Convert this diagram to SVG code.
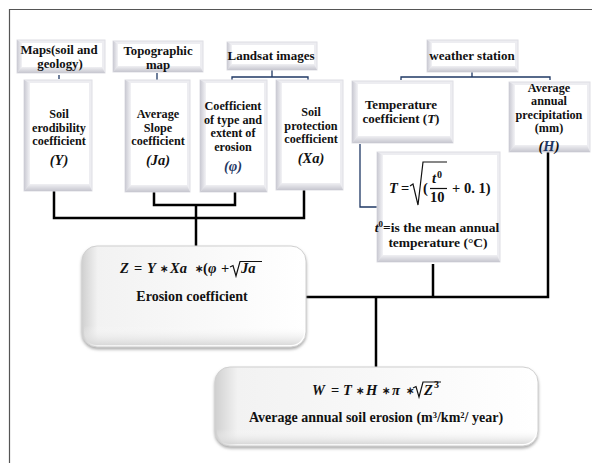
<svg xmlns="http://www.w3.org/2000/svg" width="592" height="463" viewBox="0 0 592 463">
<defs>
<linearGradient id="gl" x1="0" y1="0" x2="1" y2="0"><stop offset="0" stop-color="#c9c9d2"/><stop offset="1" stop-color="#f3f3f6"/></linearGradient>
<linearGradient id="gb" x1="0" y1="0" x2="0" y2="1"><stop offset="0" stop-color="#f0f0f3"/><stop offset="1" stop-color="#c6c6cf"/></linearGradient>
<linearGradient id="gr" x1="0" y1="0" x2="1" y2="0"><stop offset="0" stop-color="#d0d0d0"/><stop offset="0.07" stop-color="#f2f2f2"/><stop offset="1" stop-color="#ffffff"/></linearGradient>
<linearGradient id="grb" x1="0" y1="0" x2="0" y2="1"><stop offset="0" stop-color="#ffffff" stop-opacity="0"/><stop offset="0.8" stop-color="#ffffff" stop-opacity="0"/><stop offset="1" stop-color="#d4d4d4" stop-opacity="0.85"/></linearGradient>
<filter id="sh" x="-10%" y="-10%" width="120%" height="130%"><feDropShadow dx="0" dy="2" stdDeviation="1.5" flood-color="#888" flood-opacity="0.7"/></filter>
</defs>
<style>
.ol{fill:#ededf1;stroke:#dedee4;stroke-width:1}
.bl{fill:url(#gl)}
.bb{fill:url(#gb)}
.in{fill:#ffffff}
.t{font-family:"Liberation Serif","Times New Roman",serif;font-weight:bold;font-size:12.2px;fill:#111;text-anchor:middle}
.b{font-size:14px}
.l{font-size:12.8px}
.l2{font-size:13px}
.l3{font-size:13.5px}
.m{font-family:"Liberation Serif","Times New Roman",serif;font-weight:bold;font-size:14.5px;fill:#111}
.i{font-style:italic}
.s{font-size:10px}
.c{fill:none;stroke:#000;stroke-width:2.5}
.n{fill:none;stroke:#1f3864;stroke-width:1.3}
.r{fill:none;stroke:#111;stroke-width:1.2}
.rb{fill:url(#gr);stroke:#d0d0d0;stroke-width:1;filter:url(#sh)}
.rs{fill:url(#grb)}
</style>
<rect x="0" y="0" width="592" height="463" fill="#ffffff"/>
<g id="frame"><path d="M9.5 463 V9.5 H592" fill="none" stroke="#555" stroke-width="1.2"/></g>

<g id="connectors">
<path class="n" d="M59 75 v4"/>
<path class="n" d="M157 73 v7"/>
<path class="n" d="M272 70 v7 M232 80 v-3 H308 v3"/>
<path class="n" d="M472 72 v5 M401 80 v-3 H550 v3"/>
<path class="n" d="M360 144 V207 H377"/>
<path class="c" d="M54 191 V218 H304 V190"/>
<path class="c" d="M154 192 V205 H235 V192"/>
<path class="c" d="M196 205 V246"/>
<path class="c" d="M306 297 H548 V152"/>
<path class="c" d="M433 264 V297"/>
<path class="c" d="M376 297 V367"/>
</g>

<g id="maps">
<rect class="ol" x="17" y="40" width="88" height="33"/>
<polygon class="bl" points="17,40 22,43 22,67 17,73"/>
<polygon class="bb" points="17,73 22,67 102,67 105,73"/>
<rect class="in" x="22" y="43" width="80" height="24"/>
<text class="t l"><tspan x="59" y="53.5">Maps(soil and</tspan><tspan x="60" y="67.7">geology)</tspan></text>
</g>
<g id="topo">
<rect class="ol" x="113" y="41" width="90" height="31"/>
<polygon class="bl" points="113,41 118,44 118,66 113,72"/>
<polygon class="bb" points="113,72 118,66 200,66 203,72"/>
<rect class="in" x="118" y="44" width="82" height="22"/>
<text class="t l"><tspan x="158" y="55">Topographic</tspan><tspan x="158" y="69.2">map</tspan></text>
</g>
<g id="landsat">
<rect class="ol" x="227" y="42" width="90" height="28"/>
<polygon class="bl" points="227,42 232,45 232,64 227,70"/>
<polygon class="bb" points="227,70 232,64 314,64 317,70"/>
<rect class="in" x="232" y="45" width="82" height="19"/>
<text class="t l2" x="271" y="60">Landsat images</text>
</g>
<g id="weather">
<rect class="ol" x="427" y="40" width="91" height="32"/>
<polygon class="bl" points="427,40 432,43 432,66 427,72"/>
<polygon class="bb" points="427,72 432,66 515,66 518,72"/>
<rect class="in" x="432" y="43" width="83" height="23"/>
<text class="t l2" x="472" y="60">weather station</text>
</g>

<g id="soilY">
<rect class="ol" x="24" y="80" width="68" height="111"/>
<polygon class="bl" points="24,80 30,83 30,184 24,191"/>
<polygon class="bb" points="24,191 30,184 89,184 92,191"/>
<rect class="in" x="30" y="83" width="59" height="101"/>
<text class="t"><tspan x="59" y="118">Soil</tspan><tspan x="59" y="131.5">erodibility</tspan><tspan x="59" y="145">coefficient</tspan><tspan class="m i" x="59" y="165">(Y)</tspan></text>
</g>
<g id="slopeJa">
<rect class="ol" x="125" y="80" width="65" height="112"/>
<polygon class="bl" points="125,80 131,83 131,185 125,192"/>
<polygon class="bb" points="125,192 131,185 187,185 190,192"/>
<rect class="in" x="131" y="83" width="56" height="102"/>
<text class="t"><tspan x="158" y="118">Average</tspan><tspan x="158" y="131.5">Slope</tspan><tspan x="158" y="145">coefficient</tspan><tspan class="m i" x="158" y="165">(Ja)</tspan></text>
</g>
<g id="typePhi">
<rect class="ol" x="200" y="80" width="67" height="112"/>
<polygon class="bl" points="200,80 206,83 206,185 200,192"/>
<polygon class="bb" points="200,192 206,185 264,185 267,192"/>
<rect class="in" x="206" y="83" width="58" height="102"/>
<text class="t"><tspan x="233" y="110">Coefficient</tspan><tspan x="233" y="123.5">of type and</tspan><tspan x="233" y="137">extent of</tspan><tspan x="233" y="150.5">erosion</tspan><tspan class="m i" x="233" y="171" style="fill:#1f3864">(φ)</tspan></text>
</g>
<g id="protXa">
<rect class="ol" x="276" y="80" width="67" height="110"/>
<polygon class="bl" points="276,80 282,83 282,183 276,190"/>
<polygon class="bb" points="276,190 282,183 340,183 343,190"/>
<rect class="in" x="282" y="83" width="58" height="100"/>
<text class="t"><tspan x="311" y="116">Soil</tspan><tspan x="311" y="129.5">protection</tspan><tspan x="311" y="143">coefficient</tspan><tspan class="m i" x="311" y="163">(Xa)</tspan></text>
</g>
<g id="tempT">
<rect class="ol" x="352" y="81" width="101" height="62"/>
<polygon class="bl" points="352,81 358,84 358,136 352,143"/>
<polygon class="bb" points="352,143 358,136 450,136 453,143"/>
<rect class="in" x="358" y="84" width="92" height="52"/>
<text class="t l2"><tspan x="401" y="109">Temperature</tspan><tspan x="401" y="123.4">coefficient (<tspan font-style="italic">T</tspan>)</tspan></text>
</g>
<g id="precipH">
<rect class="ol" x="509" y="82" width="81" height="70"/>
<polygon class="bl" points="509,82 515,85 515,145 509,152"/>
<polygon class="bb" points="509,152 515,145 587,145 590,152"/>
<rect class="in" x="515" y="85" width="72" height="60"/>
<text class="t"><tspan x="549" y="91.5">Average</tspan><tspan x="549" y="105">annual</tspan><tspan x="549" y="118.5">precipitation</tspan><tspan x="549" y="132">(mm)</tspan><tspan class="m i" x="549" y="151">(<tspan fill="#1f3864">H</tspan>)</tspan></text>
</g>
<g id="tFormula">
<rect class="ol" x="377" y="152" width="123" height="110"/>
<polygon class="bl" points="377,152 383,155 383,255 377,262"/>
<polygon class="bb" points="377,262 383,255 497,255 500,262"/>
<rect class="in" x="383" y="155" width="114" height="100"/>
<path class="r" d="M410 186 L413 184 L418 205 L423 162 H447"/>
<path d="M430 188.5 H447" stroke="#111" stroke-width="1.2"/>
<text class="m"><tspan class="i" x="389" y="193">T</tspan><tspan x="401" y="193">=</tspan><tspan x="423" y="193">(</tspan><tspan class="i" x="432" y="183">t</tspan><tspan class="s" x="437" y="178">0</tspan><tspan x="430" y="202">10</tspan><tspan x="452" y="193">+ 0. 1)</tspan></text>
<text class="t l3"><tspan x="437" y="232"><tspan font-style="italic">t</tspan><tspan font-size="9" dy="-5">0</tspan><tspan dy="5">=is the mean annual</tspan></tspan><tspan x="438" y="247">temperature (°C)</tspan></text>
</g>

<g id="erosionZ">
<rect class="rb" x="82" y="246" width="224" height="101" rx="15"/>
<rect class="rs" x="84" y="248" width="220" height="97" rx="13"/>
<path class="r" d="M230 267 L233 265.5 L236 276 L240 261.5 H262"/>
<text class="m"><tspan class="i" x="120" y="273">Z</tspan><tspan x="134" y="273">=</tspan><tspan class="i" x="147" y="273">Y</tspan><tspan class="s" x="160" y="272">∗</tspan><tspan class="i" x="170" y="273">Xa</tspan><tspan class="s" x="195" y="272">∗</tspan><tspan x="203" y="273">(</tspan><tspan class="i" x="208" y="273">φ</tspan><tspan x="221" y="273">+</tspan><tspan class="i" x="241" y="273">Ja</tspan></text>
<text class="t b" x="192" y="301">Erosion coefficient</text>
</g>

<g id="erosionW">
<rect class="rb" x="215" y="367" width="323" height="79" rx="15"/>
<rect class="rs" x="217" y="369" width="319" height="75" rx="13"/>
<path class="r" d="M413 388 L416 386.5 L419 397 L423 382 H441"/>
<text class="m"><tspan class="i" x="312" y="395">W</tspan><tspan x="331" y="395">=</tspan><tspan class="i" x="343" y="395">T</tspan><tspan class="s" x="356" y="394">∗</tspan><tspan class="i" x="366" y="395">H</tspan><tspan class="s" x="382" y="394">∗</tspan><tspan class="i" x="392" y="395">π</tspan><tspan class="s" x="406" y="394">∗</tspan><tspan class="i" x="424" y="395">Z</tspan><tspan class="s" x="434" y="388">3</tspan></text>
<text class="t b" x="376" y="422">Average annual soil erosion (m<tspan font-size="8.5" dy="-4">3</tspan><tspan dy="4">/km</tspan><tspan font-size="8.5" dy="-4">2</tspan><tspan dy="4">/ year)</tspan></text>
</g>
</svg>
